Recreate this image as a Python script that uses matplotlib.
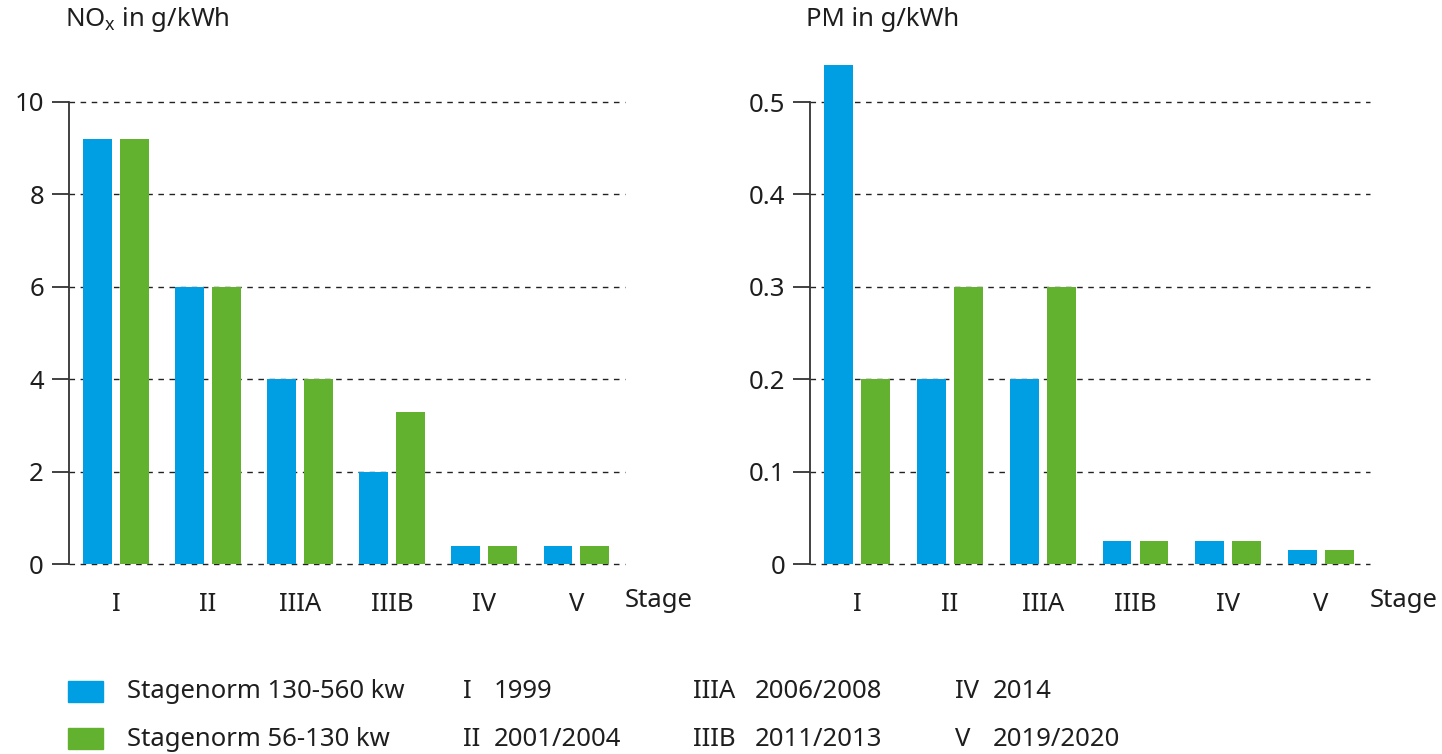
import matplotlib
matplotlib.use("Agg")
import matplotlib.pyplot as plt
from matplotlib.patches import Rectangle
import numpy as np

# ---- data ----
stages = ["I", "II", "IIIA", "IIIB", "IV", "V"]
nox_130_560 = [9.2, 6.0, 4.0, 2.0, 0.4, 0.4]
nox_56_130 = [9.2, 6.0, 4.0, 3.3, 0.4, 0.4]
pm_130_560 = [0.54, 0.2, 0.2, 0.025, 0.025, 0.015]
pm_56_130 = [0.2, 0.3, 0.3, 0.025, 0.025, 0.015]
nox_ticks = [0, 2, 4, 6, 8, 10]
nox_ticklabels = ["0", "2", "4", "6", "8", "10"]
pm_ticks = [0, 0.1, 0.2, 0.3, 0.4, 0.5]
pm_ticklabels = ["0", "0.1", "0.2", "0.3", "0.4", "0.5"]
series_names = ["Stagenorm 130-560 kw", "Stagenorm 56-130 kw"]
stage_names = ["I", "II", "IIIA", "IIIB", "IV", "V"]
stage_years = ["1999", "2001/2004", "2006/2008", "2011/2013", "2014", "2019/2020"]

BLUE = "#009FE3"
GREEN = "#63B22F"
TXT = "#1e1e1e"
FS = 18.5

plt.rcParams["font.family"] = ["Noto Sans", "DejaVu Sans"]
plt.rcParams["mathtext.fontset"] = "custom"
plt.rcParams["mathtext.rm"] = "Noto Sans"

W, H = 1442, 754
fig = plt.figure(figsize=(W / 100, H / 100), dpi=100)


def px_axes(x0, x1, ytop, ybot):
    return [x0 / W, 1 - ybot / H, (x1 - x0) / W, (ybot - ytop) / H]


def draw_panel(ax, blue, green, ticks, ticklabels, ymax_tick, ytop):
    x = np.arange(len(stages))
    ax.bar(x - 0.2, blue, width=0.31, color=BLUE, zorder=3)
    ax.bar(x + 0.2, green, width=0.31, color=GREEN, zorder=3)
    ax.set_xlim(-0.51, 5.53)
    ax.set_ylim(0, ytop)
    for t in ticks:
        ax.axhline(t, color="#222222", lw=1.0, ls=(0, (4, 4)), zorder=1,
                   clip_on=False)
    for s in ["top", "right", "bottom"]:
        ax.spines[s].set_visible(False)
    ax.spines["left"].set_bounds(0, ymax_tick)
    ax.spines["left"].set_color("#333333")
    ax.spines["left"].set_linewidth(1.3)
    ax.set_yticks(ticks)
    ax.set_yticklabels(ticklabels)
    ax.tick_params(axis="y", length=12, width=1.3, color="#333333",
                   labelsize=FS, labelcolor=TXT, pad=6)
    ax.set_xticks(x)
    ax.set_xticklabels(stages)
    ax.tick_params(axis="x", length=0, labelsize=FS, labelcolor=TXT, pad=20)
    ax.text(1.0, -0.0706, "Stage", transform=ax.transAxes, ha="left",
            va="center", fontsize=FS, color=TXT)


ax1 = fig.add_axes(px_axes(69, 625, 54, 564))
draw_panel(ax1, nox_130_560, nox_56_130, nox_ticks, nox_ticklabels, 10, 510 / 46.2)

ax2 = fig.add_axes(px_axes(810, 1370, 54, 564))
draw_panel(ax2, pm_130_560, pm_56_130, pm_ticks, pm_ticklabels, 0.5, 510 / 924)

fig.text(65 / W, 1 - 20 / H, r"NO$_\mathregular{x}$ in g/kWh", fontsize=FS,
         color=TXT, ha="left", va="center")
fig.text(806 / W, 1 - 20 / H, "PM in g/kWh", fontsize=FS, color=TXT,
         ha="left", va="center")

# legend
rows_y = [692, 739]
for col, yy in zip([BLUE, GREEN], rows_y):
    fig.add_artist(Rectangle((68 / W, 1 - (yy + 10) / H), 35 / W, 21 / H,
                             transform=fig.transFigure, color=col))
for name, yy in zip(series_names, rows_y):
    fig.text(127 / W, 1 - yy / H, name, fontsize=FS, color=TXT, ha="left", va="center")

col_name_x = [463, 693, 955]
col_year_x = [494, 755, 993]
for i, (nm, yr) in enumerate(zip(stage_names, stage_years)):
    c = i // 2
    r = i % 2
    fig.text(col_name_x[c] / W, 1 - rows_y[r] / H, nm, fontsize=FS, color=TXT,
             ha="left", va="center")
    fig.text(col_year_x[c] / W, 1 - rows_y[r] / H, yr, fontsize=FS, color=TXT,
             ha="left", va="center")

fig.savefig("out.png", dpi=100)
